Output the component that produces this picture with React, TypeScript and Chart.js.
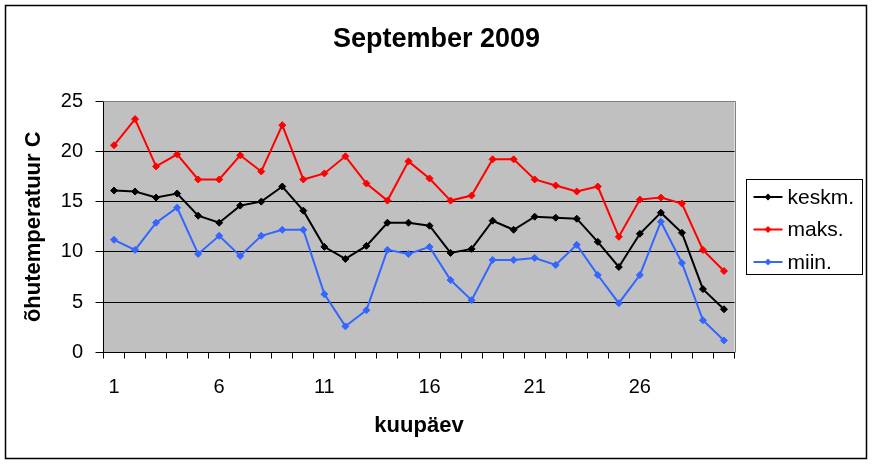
import { useEffect, useRef } from "react";
import { Chart, ChartConfiguration, Plugin, registerables } from "chart.js";

Chart.register(...registerables);

const chartTitle = "September 2009";

const days = [
  "1", "2", "3", "4", "5", "6", "7", "8", "9", "10",
  "11", "12", "13", "14", "15", "16", "17", "18", "19", "20",
  "21", "22", "23", "24", "25", "26", "27", "28", "29", "30",
];

const keskm = [
  16.1, 16.0, 15.4, 15.8, 13.6, 12.9, 14.6, 15.0, 16.5, 14.1,
  10.5, 9.3, 10.6, 12.9, 12.9, 12.6, 9.9, 10.3, 13.1, 12.2,
  13.5, 13.4, 13.3, 11.0, 8.5, 11.8, 13.9, 11.9, 6.3, 4.3,
];

const maks = [
  20.6, 23.2, 18.5, 19.7, 17.2, 17.2, 19.6, 18.0, 22.6, 17.2,
  17.8, 19.5, 16.8, 15.1, 19.0, 17.3, 15.1, 15.6, 19.2, 19.2,
  17.2, 16.6, 16.0, 16.5, 11.5, 15.2, 15.4, 14.8, 10.2, 8.1,
];

const miin = [
  11.2, 10.2, 12.9, 14.4, 9.8, 11.6, 9.6, 11.6, 12.2, 12.2,
  5.8, 2.6, 4.2, 10.2, 9.8, 10.5, 7.2, 5.2, 9.2, 9.2,
  9.4, 8.7, 10.7, 7.7, 4.9, 7.7, 13.0, 8.9, 3.2, 1.2,
];

const FONT = "'Liberation Sans', Arial, sans-serif";

// grey plot background, outer frame and the title centred on the whole canvas
const framePlugin: Plugin<"line"> = {
  id: "frame",
  beforeDraw(chart) {
    const { ctx, chartArea: a, width, height } = chart;
    ctx.save();
    ctx.fillStyle = "#ffffff";
    ctx.fillRect(0, 0, width, height);
    ctx.fillStyle = "#c0c0c0";
    ctx.fillRect(a.left, a.top, a.right - a.left, a.bottom - a.top);
    ctx.strokeStyle = "#000000";
    ctx.lineWidth = 1.5;
    ctx.strokeRect(5.5, 5.5, width - 12, height - 11);
    ctx.fillStyle = "#000000";
    ctx.font = `bold 27px ${FONT}`;
    ctx.textAlign = "center";
    ctx.textBaseline = "middle";
    ctx.fillText(chartTitle, width / 2, 40);
    ctx.restore();
  },
  afterDraw(chart) {
    const { ctx, chartArea: a } = chart;
    ctx.save();
    ctx.strokeStyle = "#808080";
    ctx.lineWidth = 1;
    ctx.beginPath();
    ctx.moveTo(a.left, Math.round(a.top) + 0.5);
    ctx.lineTo(Math.round(a.right) + 0.5, Math.round(a.top) + 0.5);
    ctx.lineTo(Math.round(a.right) + 0.5, a.bottom);
    ctx.stroke();
    ctx.restore();
  },
};

// Excel-style boxed legend to the right of the plot
const legendPlugin: Plugin<"line"> = {
  id: "boxLegend",
  afterDraw(chart) {
    const { ctx, chartArea: a } = chart;
    const left = Math.round(a.right) + 11.5;
    const top = 179.5;
    const w = 116;
    const h = 95;
    ctx.save();
    ctx.fillStyle = "#ffffff";
    ctx.fillRect(left, top, w, h);
    ctx.strokeStyle = "#000000";
    ctx.lineWidth = 1;
    ctx.strokeRect(left, top, w, h);
    chart.data.datasets.forEach((ds, i) => {
      const y = top + 17.5 + i * 32.5;
      const color = ds.borderColor as string;
      ctx.strokeStyle = color;
      ctx.lineWidth = 2;
      ctx.beginPath();
      ctx.moveTo(left + 7, y);
      ctx.lineTo(left + 36, y);
      ctx.stroke();
      const cx = left + 21.5;
      ctx.fillStyle = color;
      ctx.beginPath();
      ctx.moveTo(cx, y - 3.5);
      ctx.lineTo(cx + 3.5, y);
      ctx.lineTo(cx, y + 3.5);
      ctx.lineTo(cx - 3.5, y);
      ctx.closePath();
      ctx.fill();
      ctx.fillStyle = "#000000";
      ctx.font = `21px ${FONT}`;
      ctx.textBaseline = "middle";
      ctx.textAlign = "left";
      ctx.fillText(String(ds.label), left + 41, y + 1);
    });
    ctx.restore();
  },
};

function series(label: string, data: number[], color: string) {
  return {
    label,
    data,
    borderColor: color,
    backgroundColor: color,
    borderWidth: 2,
    pointStyle: "rectRot" as const,
    pointRadius: 3.5,
    pointBackgroundColor: color,
    pointBorderColor: color,
    pointBorderWidth: 1,
    tension: 0,
  };
}

export default function App() {
  const canvasRef = useRef<HTMLCanvasElement>(null);
  const chartRef = useRef<Chart<"line"> | null>(null);

  useEffect(() => {
    if (!canvasRef.current) return;
    if (chartRef.current) chartRef.current.destroy();

    const config: ChartConfiguration<"line"> = {
      type: "line",
      data: {
        labels: days,
        datasets: [
          series("keskm.", keskm, "#000000"),
          series("maks.", maks, "#ff0000"),
          series("miin.", miin, "#3366ff"),
        ],
      },
      options: {
        responsive: true,
        maintainAspectRatio: false,
        animation: false,
        layout: {
          padding: { left: 5, right: 138.5, top: 101, bottom: 6 },
        },
        plugins: {
          legend: { display: false },
          tooltip: { enabled: false },
          title: { display: false },
        },
        scales: {
          x: {
            type: "category",
            offset: true,
            afterFit: (scale) => {
              scale.height = 105.5;
            },
            grid: {
              display: true,
              offset: true,
              drawOnChartArea: false,
              drawTicks: true,
              tickLength: 6,
              tickColor: "#000000",
              color: "#000000",
            },
            border: { display: true, color: "#000000", width: 1 },
            ticks: {
              autoSkip: false,
              maxRotation: 0,
              padding: 16.5,
              color: "#000000",
              font: { family: FONT, size: 20 },
              callback: (_v, i) => (i % 5 === 0 ? days[i] : ""),
            },
            title: {
              display: true,
              text: "kuupäev",
              color: "#000000",
              font: { family: FONT, size: 22, weight: "bold" },
              padding: { top: 0, bottom: 18.8 },
            },
          },
          y: {
            min: 0,
            max: 25,
            afterFit: (scale) => {
              scale.width = 98.5;
            },
            grid: {
              color: (c) => (c.tick && c.tick.value === 25 ? "#808080" : "#000000"),
              lineWidth: 1,
              drawTicks: true,
              tickLength: 8,
              tickColor: "#000000",
            },
            border: { display: true, color: "#000000", width: 1 },
            ticks: {
              stepSize: 5,
              padding: 12.5,
              color: "#000000",
              font: { family: FONT, size: 20 },
            },
            title: {
              display: true,
              text: "õhutemperatuur C",
              color: "#000000",
              font: { family: FONT, size: 22, weight: "bold" },
              padding: { top: 16, bottom: 0 },
            },
          },
        },
      },
      plugins: [framePlugin, legendPlugin],
    };

    chartRef.current = new Chart(canvasRef.current, config);

    return () => {
      if (chartRef.current) {
        chartRef.current.destroy();
        chartRef.current = null;
      }
    };
  }, []);

  return (
    <div style={{ position: "absolute", left: 0, top: 0, width: 873, height: 464 }}>
      <canvas ref={canvasRef} />
    </div>
  );
}
